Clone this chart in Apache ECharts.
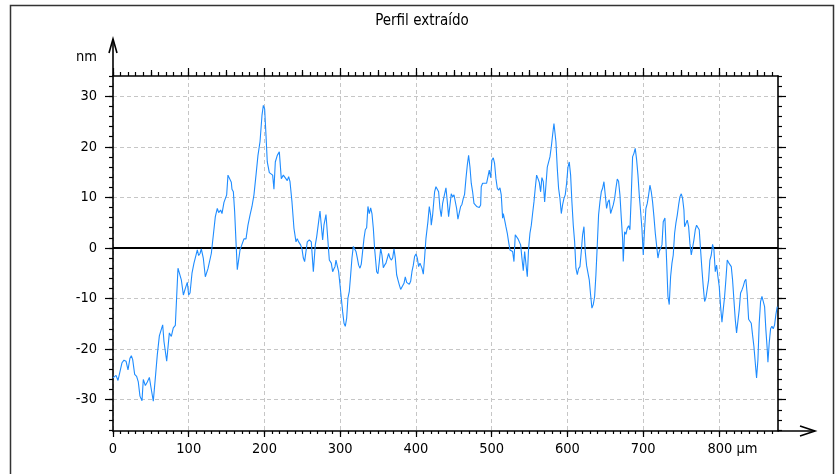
<!DOCTYPE html>
<html>
<head>
<meta charset="utf-8">
<script src="https://cdn.jsdelivr.net/npm/echarts@6/dist/echarts.min.js"></script>
<style>
  html, body { margin: 0; padding: 0; background: #ffffff; }
  #chart { width: 838px; height: 474px; }
</style>
</head>
<body>
<div id="chart"></div>
<script>
// Extracted surface profile: lateral position (µm) vs. height (nm)
const chartTitle = 'Perfil extraído';
const xUnit = 'µm';
const yUnit = 'nm';
const xRange = [0, 878];
const yRange = [-36.2, 34];

const xMajorTicks = [0, 100, 200, 300, 400, 500, 600, 700, 800];
const xMidTicks = [50, 150, 250, 350, 450, 550, 650, 750, 850];
const yMajorTicks = [-30, -20, -10, 0, 10, 20, 30];

// profile points: [position in µm, height in nm]
const profile = [
  [0, -25.7], [4.0, -25.2], [6.6, -26.2], [9.2, -26.0], [11.9, -22.7], [14.5, -22.2], [17.2, -22.4],
  [19.8, -24.1], [22.4, -21.8], [24.2, -21.3], [26.0, -22.1], [28.6, -25.0], [31.2, -25.4], [33.4, -26.5],
  [35.6, -29.3], [38.3, -30.2], [40.0, -26.0], [42.7, -27.2], [45.3, -26.5], [48.0, -25.6], [50.6, -28.0],
  [53.2, -30.3], [55.9, -25.7], [58.5, -21.1], [61.2, -17.4], [63.8, -17.2], [65.6, -15.2], [67.3, -18.5],
  [70.9, -22.4], [74.4, -16.8], [77.0, -17.5], [79.6, -15.8], [82.3, -15.3], [85.8, -4.0], [87.6, -4.1],
  [90.2, -6.3], [92.9, -9.3], [95.5, -8.0], [98.1, -6.8], [99.9, -9.3], [101.7, -8.9], [104.3, -5.0],
  [106.9, -3.0], [109.6, -1.4], [111.3, -0.4], [113.1, -1.5], [114.9, -1.1], [116.6, -0.2], [119.2, -2.0],
  [121.9, -5.7], [123.7, -5.7], [125.4, -4.1], [127.2, -4.3], [129.8, -1.1], [132.5, 2.6], [135.1, 6.2],
  [137.7, 7.8], [139.5, 7.0], [142.1, 7.5], [143.9, 6.8], [146.5, 9.0],
  [148.3, 9.3], [150.1, 10.5], [151.8, 14.4], [153.6, 14.5], [156.2, 13.0], [157.1, 11.6], [158.9, 11.1],
  [160.6, 7.2], [162.4, 1.2], [164.1, -4.3], [165.9, -4.0], [167.7, -0.4], [170.3, 0.7], [172.9, 1.8],
  [175.6, 1.8], [178.2, 4.5], [180.9, 6.5], [183.5, 8.2], [186.1, 10.5], [188.8, 14.4], [191.4, 18.3],
  [194.1, 21.0], [196.7, 26.2], [198.5, 28.2], [200.2, 27.5], [202.0, 22.3], [203.7, 17.0], [206.4, 14.9],
  [209.0, 15.1], [210.8, 14.4], [212.5, 11.6], [214.3, 17.0], [216.9, 18.3], [219.6, 19.0], [222.2, 13.7],
  [224.9, 14.4], [227.5, 14.5], [230.1, 13.3], [231.9, 14.1], [233.7, 13.1], [236.3, 9.1], [238.9, 3.9],
  [241.6, 1.2], [243.3, 1.8], [245.1, 1.2], [247.7, 0.6], [249.5, -0.2], [251.3, -2.0], [253.0, -2.7],
  [254.8, -0.7], [256.5, 1.2], [259.2, 1.6], [261.8, 1.2], [264.5, -4.7], [267.1, 0.6], [268.9, 2.2],
  [271.5, 5.2], [273.3, 7.3], [275.0, 4.5], [276.8, 1.6], [278.5, 4.5], [281.2, 6.6], [282.9, 3.2],
  [285.6, -2.4], [288.2, -3.0], [290.0, -4.7], [291.7, -4.1], [293.1, -3.7],
  [294.4, -2.4], [296.1, -2.2], [297.9, -4.7], [299.7, -7.3], [301.4, -9.9], [303.2, -12.6], [305.0, -14.9],
  [306.7, -15.5], [308.5, -13.9], [310.2, -9.9], [312.0, -8.6], [313.8, -5.3], [315.5, -2.0], [317.3, 0.3],
  [319.0, 0.3], [320.8, -0.7], [322.6, -2.0], [324.3, -3.4], [326.1, -4.0], [327.8, -3.2], [329.6, -3.4],
  [331.4, 1.9], [333.1, 3.6], [334.9, 4.0], [336.6, 8.2], [338.4, 6.8], [340.2, 7.9], [341.9, 6.8],
  [343.7, 3.9], [345.4, -0.1], [348.1, -4.7], [349.8, -5.1], [351.6, -2.7], [353.4, -0.1], [355.1, -1.4],
  [356.9, -3.9], [358.6, -3.4], [360.4, -3.0], [362.2, -2.7], [363.9, -1.1], [365.7, -2.0], [367.4, -2.4],
  [369.2, -2.0], [371.0, -0.2], [372.7, -2.0], [374.5, -5.3], [376.2, -6.3], [378.0, -7.3], [379.8, -8.2],
  [382.4, -8.2], [384.2, -7.0], [385.9, -5.7], [387.7, -6.8], [389.4, -6.6], [391.2, -7.2], [393.0, -6.6],
  [394.7, -4.7], [396.5, -3.4], [398.2, -1.7], [400.0, -1.2], [401.8, -2.0], [403.5, -3.7], [405.3, -3.0],
  [407.9, -4.0], [409.7, -5.2], [411.4, -2.0], [413.2, 1.9], [415.8, 5.2], [417.6, 8.2], [419.4, 6.5],
  [420.2, 4.5], [422.0, 6.5], [424.6, 11.1], [426.4, 12.1], [428.2, 12.3], [429.9, 11.1], [431.7, 7.8],
  [433.4, 6.2], [435.2, 8.8], [437.0, 10.1],
  [439.6, 11.9], [441.4, 9.1], [443.1, 6.2], [444.9, 8.5], [446.6, 10.7], [448.4, 10.1], [450.2, 10.5],
  [451.9, 10.3], [453.7, 7.8], [455.4, 5.7], [457.2, 5.7], [459.0, 8.2], [460.7, 8.6], [462.5, 9.8],
  [464.2, 10.6], [466.0, 13.7], [467.8, 16.4], [469.5, 18.3], [471.3, 16.0], [473.0, 12.8], [474.8, 11.1],
  [476.6, 8.8], [478.3, 8.5], [480.1, 8.2], [481.8, 8.5], [483.6, 8.0], [485.4, 8.5], [486.2, 12.1],
  [488.0, 12.8], [490.6, 13.1], [493.3, 12.8], [495.0, 12.8], [496.8, 15.4], [498.6, 13.9], [500.3, 17.4],
  [502.1, 17.8], [503.8, 16.7], [505.6, 13.7], [507.4, 11.8], [509.1, 11.4], [510.9, 11.9], [512.6, 10.5],
  [514.4, 5.9], [515.3, 6.8], [517.1, 5.5], [518.8, 4.2], [520.6, 2.9], [522.3, 1.2], [524.1, -0.4],
  [525.9, -0.6], [527.6, -0.7], [529.4, -2.7], [531.1, 2.6], [532.9, 2.7], [534.7, 1.8], [536.4, 1.9],
  [538.2, 0.6], [539.9, -2.0], [541.7, -4.5], [543.5, -0.7], [545.2, -0.9], [547.0, -5.7], [548.7, -0.1],
  [550.5, 2.9], [552.3, 4.5], [554.0, 6.8], [555.8, 9.1], [557.5, 11.8], [559.3, 14.4], [561.1, 13.7],
  [562.8, 13.0], [564.6, 11.1], [566.3, 13.9], [568.1, 13.1], [569.9, 9.1], [571.6, 12.4], [573.4, 16.0],
  [575.1, 16.2], [576.9, 18.0], [578.7, 20.0], [580.4, 22.3], [582.2, 24.6], [583.5, 24.9],
  [584.8, 21.0], [586.6, 15.7], [588.3, 11.8], [590.1, 9.8], [591.9, 6.8], [593.6, 8.5], [595.4, 9.8],
  [597.1, 10.5], [598.9, 12.8], [600.7, 16.0], [602.4, 17.0], [604.2, 14.4], [605.9, 9.1], [607.7, 4.5],
  [609.5, 1.2], [611.2, -4.0], [613.0, -5.3], [614.7, -4.1], [616.5, -3.7], [618.3, -0.7], [620.0, 2.6],
  [621.8, 4.2], [623.5, -0.7], [625.3, -3.5], [627.1, -3.4], [628.8, -6.3], [630.6, -9.3], [632.3, -11.9],
  [634.1, -11.2], [635.9, -9.6], [637.6, -5.3], [639.4, 0.6], [641.1, 6.5], [642.9, 9.1], [644.7, 11.1],
  [646.4, 11.8], [648.2, 13.1], [649.9, 13.0], [651.7, 7.8], [653.5, 9.1], [655.2, 9.5], [657.0, 6.8],
  [658.7, 6.5], [660.5, 8.5], [662.3, 9.8], [664.0, 11.8], [665.8, 13.6], [667.5, 13.2], [669.3, 10.5],
  [671.1, 5.9], [672.8, 1.9], [673.7, -2.7], [675.5, 3.2], [677.2, 2.7], [679.0, 3.9], [680.8, 4.4],
  [682.5, 3.6], [684.3, 10.5], [686.0, 18.0], [687.8, 18.7], [689.5, 19.7], [691.3, 17.5], [693.1, 14.4],
  [694.8, 10.5], [696.6, 7.2], [698.3, 3.9], [700.1, -1.4], [701.9, 3.9], [703.6, 7.8], [705.4, 8.8],
  [707.2, 10.5], [708.9, 12.4], [710.7, 11.1], [712.4, 9.1], [714.2, 6.2], [716.0, 2.9], [717.7, 2.6],
  [719.5, -2.0], [721.2, -0.7], [723.0, -0.4], [724.8, 0.6], [726.5, 5.2], [728.7, 5.9],
  [730.9, -2.4], [732.7, -9.6], [734.4, -11.2], [736.2, -5.7], [738.0, -3.0], [739.7, -1.4], [741.5, 2.9],
  [743.2, 4.9], [745.0, 6.5], [746.8, 8.5], [748.5, 10.1], [750.3, 10.7], [752.0, 9.8], [753.8, 7.5],
  [754.7, 4.2], [756.4, 4.1], [758.2, 5.5], [760.0, 4.2], [761.7, 0.9], [763.5, -1.4], [765.2, -1.2],
  [767.0, 1.6], [768.8, 3.6], [770.5, 4.5], [772.3, 4.3], [774.0, 3.6], [775.8, -0.4], [777.6, -4.3],
  [779.3, -7.6], [781.1, -10.6], [782.8, -9.9], [784.6, -9.9], [786.4, -6.3], [788.1, -2.4], [789.9, -1.4],
  [791.6, 0.7], [793.4, -0.4], [795.2, -4.7], [796.9, -3.4], [798.7, -5.7], [800.4, -7.6], [802.2, -11.6],
  [804.0, -14.7], [805.7, -12.2], [807.5, -9.6], [809.2, -6.3], [811.0, -2.4], [812.8, -2.9], [814.5, -3.0],
  [816.3, -3.7], [818.0, -6.3], [819.8, -10.3], [821.6, -14.2], [823.3, -16.8], [825.1, -16.5], [826.8, -12.2],
  [828.6, -8.9], [830.4, -8.3], [832.1, -7.6], [833.9, -6.6], [835.6, -6.2], [837.4, -9.3], [839.2, -14.1],
  [840.9, -14.3], [842.7, -14.9], [844.4, -17.2], [846.2, -19.5], [848.0, -22.7], [849.7, -25.7], [851.5, -22.1],
  [853.2, -14.9], [855.0, -10.6], [856.8, -9.6], [858.5, -9.3], [860.3, -11.6], [862.0, -16.2], [863.8, -20.1],
  [864.7, -22.6], [866.4, -18.8], [868.2, -16.0], [870.0, -15.5], [871.7, -16.0], [873.5, -15.2], [875.2, -13.2],
  [877.0, -11.6]
];

// ---- layout / style ----
const W = 838, H = 474;
const GRID = { left: 113, right: 60, top: 76, bottom: 43 };
const FONT = '"DejaVu Sans Condensed", "DejaVu Sans", sans-serif';
const INK = '#000000';
const AXIS_W = 1.6;
const TICK_W = 1.2;

// evenly spaced minor tick positions along an axis
function steps(from, to, step) {
  const out = [];
  for (let v = from; v <= to + 1e-9; v += step) out.push(Math.round(v * 1000) / 1000);
  return out;
}
const xMinorTicks = steps(0, 870, 10);
const yMinorTicks = steps(-36, 34, 2);

const gridLine = { show: true, lineStyle: { color: '#c6c6c6', width: 1, type: [4, 3] } };
const hiddenLine = { show: false, onZero: false };
const visibleLine = { show: true, onZero: false, lineStyle: { color: INK, width: AXIS_W } };

function xAx(position, extra) {
  return Object.assign({
    type: 'value', position: position, min: xRange[0], max: xRange[1],
    axisLine: hiddenLine, axisTick: { show: false },
    axisLabel: { show: false }, splitLine: { show: false }
  }, extra);
}
function yAx(position, extra) {
  return Object.assign({
    type: 'value', position: position, min: yRange[0], max: yRange[1],
    axisLine: hiddenLine, axisTick: { show: false },
    axisLabel: { show: false }, splitLine: { show: false }
  }, extra);
}
function ticks(values, length) {
  return { show: true, customValues: values, length: length, inside: false,
           lineStyle: { color: INK, width: TICK_W } };
}

const labelText = { color: INK, fontFamily: FONT, fontSize: 14.5 };

const chart = echarts.init(document.getElementById('chart'), null, { renderer: 'canvas' });

const axisX0 = GRID.left;
const axisY0 = H - GRID.bottom;
const plotRight = W - GRID.right;

chart.setOption({
  animation: false,
  backgroundColor: '#ffffff',
  grid: Object.assign({}, GRID),
  xAxis: [
    xAx('bottom', {
      axisLine: visibleLine,
      axisTick: ticks(xMajorTicks, 6),
      splitLine: gridLine,
      axisLabel: Object.assign({
        show: true, customValues: xMajorTicks, margin: 11,
        formatter: function (v) {
          return v === xMajorTicks[xMajorTicks.length - 1] ? '{pad| }' + v + ' ' + xUnit : String(v);
        },
        rich: { pad: { width: 27 } }
      }, labelText)
    }),
    xAx('bottom', { axisTick: ticks(xMinorTicks, 3) }),
    xAx('top', { axisLine: visibleLine, axisTick: ticks(xMajorTicks, 8) }),
    xAx('top', { axisTick: ticks(xMidTicks, 6) }),
    xAx('top', { axisTick: ticks(xMinorTicks, 4) })
  ],
  yAxis: [
    yAx('left', {
      axisLine: visibleLine,
      axisTick: ticks(yMajorTicks, 8),
      splitLine: gridLine,
      axisLabel: Object.assign({ show: true, customValues: yMajorTicks, margin: 16 }, labelText)
    }),
    yAx('left', { axisTick: ticks(yMinorTicks, 4) }),
    yAx('right', { axisLine: visibleLine, axisTick: ticks(yMajorTicks, 8) }),
    yAx('right', { axisTick: ticks(yMinorTicks, 4) })
  ],
  series: [{
    type: 'line',
    name: chartTitle,
    xAxisIndex: 0,
    yAxisIndex: 0,
    data: profile,
    symbol: 'none',
    showSymbol: false,
    lineStyle: { color: '#1e8cff', width: 1.1 },
    z: 3,
    markLine: {
      silent: true,
      symbol: ['none', 'none'],
      label: { show: false },
      lineStyle: { color: INK, width: 1.8, type: 'solid' },
      z: 2,
      data: [{ yAxis: 0 }]
    }
  }],
  graphic: [
    // outer frame
    { type: 'rect', silent: true, z: 10,
      shape: { x: 10.5, y: 5.5, width: 823, height: H + 20 },
      style: { fill: null, stroke: '#333333', lineWidth: 1.5 } },
    // chart title
    { type: 'text', silent: true, x: 422, y: 21,
      style: { text: chartTitle, fill: INK, font: '15px ' + FONT, align: 'center', verticalAlign: 'middle' } },
    // y unit
    { type: 'text', silent: true, x: axisX0 - 16, y: 57,
      style: { text: yUnit, fill: INK, font: '14.5px ' + FONT, align: 'right', verticalAlign: 'middle' } },
    // y axis arrow
    { type: 'polyline', silent: true, z: 10,
      shape: { points: [[axisX0, GRID.top], [axisX0, 39]] },
      style: { stroke: INK, lineWidth: AXIS_W } },
    { type: 'polyline', silent: true, z: 10,
      shape: { points: [[axisX0 - 4, 53], [axisX0, 39], [axisX0 + 4, 53]] },
      style: { stroke: INK, lineWidth: AXIS_W, fill: null } },
    // x axis arrow
    { type: 'polyline', silent: true, z: 10,
      shape: { points: [[plotRight, axisY0], [815, axisY0]] },
      style: { stroke: INK, lineWidth: AXIS_W } },
    { type: 'polyline', silent: true, z: 10,
      shape: { points: [[800, axisY0 - 5], [815, axisY0], [800, axisY0 + 5]] },
      style: { stroke: INK, lineWidth: AXIS_W, fill: null } }
  ]
});
</script>
</body>
</html>
